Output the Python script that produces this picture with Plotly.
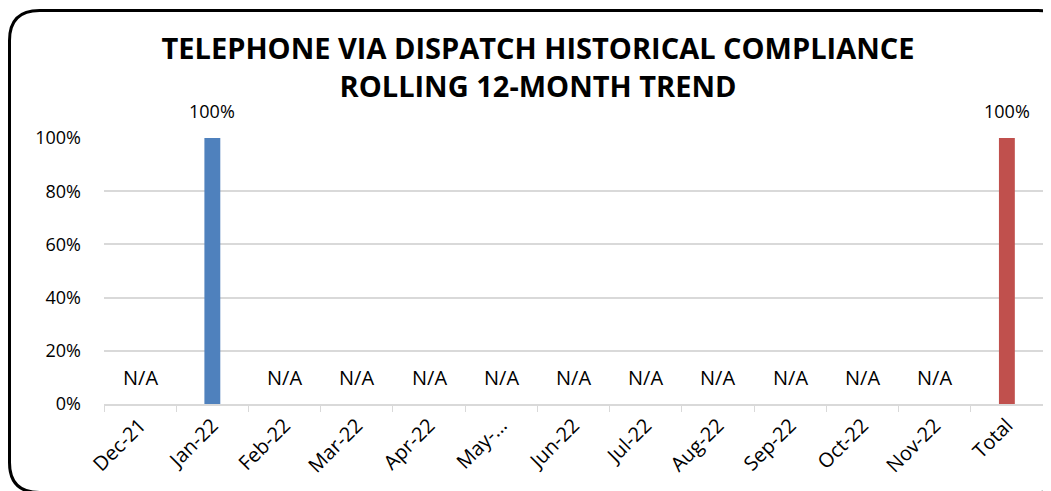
import plotly.graph_objects as go

categories = ["Dec-21", "Jan-22", "Feb-22", "Mar-22", "Apr-22", "May-...", "Jun-22",
              "Jul-22", "Aug-22", "Sep-22", "Oct-22", "Nov-22", "Total"]
values = [None, 1.0, None, None, None, None, None, None, None, None, None, None, 1.0]
bar_colors = ["#4F81BD"] * 12 + ["#C0504D"]
na_label = "N/A"
na_label_pos = 0.10
y_ticks = [0, 0.2, 0.4, 0.6, 0.8, 1.0]
y_tick_labels = ["0%", "20%", "40%", "60%", "80%", "100%"]

# page body has an 8px offset; the figure is sized to fit the window
OFF = 8
W, H = 1051 - OFF, 491 - OFF
L, R, T, B = 104 - OFF, 8, 138 - OFF, 491 - 404
FONT = "Open Sans"

fig = go.Figure()
fig.add_trace(go.Bar(
    x=categories,
    y=[v if v is not None else 0 for v in values],
    marker=dict(color=bar_colors, line=dict(width=0)),
    width=0.22,
    cliponaxis=False,
    hoverinfo="skip",
))

for c, v in zip(categories, values):
    if v is None:
        fig.add_annotation(x=c, y=na_label_pos, text=na_label, showarrow=False,
                           font=dict(family=FONT, size=20, color="#000000"))
    else:
        fig.add_annotation(x=c, y=v, text=f"{v*100:.0f}%", showarrow=False,
                           yanchor="bottom", yshift=13,
                           font=dict(family=FONT, size=18, color="#000000"))

def px(x):
    return (x - OFF - L) / (W - L - R)

def py(y):
    return (H - B - (y - OFF)) / (H - T - B)

l, t, r, b, rad = 9.5, 10.5, 1068, 492.5, 30
path = (f"M {px(l)},{py(b - rad)} L {px(l)},{py(t + rad)} "
        f"Q {px(l)},{py(t)} {px(l + rad)},{py(t)} "
        f"L {px(r - rad)},{py(t)} Q {px(r)},{py(t)} {px(r)},{py(t + rad)} "
        f"L {px(r)},{py(b - rad)} Q {px(r)},{py(b)} {px(r - rad)},{py(b)} "
        f"L {px(l + rad)},{py(b)} Q {px(l)},{py(b)} {px(l)},{py(b - rad)} Z")
fig.add_shape(type="path", path=path, xref="paper", yref="paper",
              line=dict(color="#000000", width=3), layer="above")

fig.update_layout(
    width=W, height=H,
    margin=dict(l=L, r=R, t=T, b=B, autoexpand=False),
    paper_bgcolor="#FFFFFF", plot_bgcolor="#FFFFFF",
    showlegend=False,
    title=dict(text="<b>TELEPHONE VIA DISPATCH HISTORICAL COMPLIANCE<br>ROLLING 12-MONTH TREND</b>",
               x=(538 - OFF - L) / (W - L - R), xref="paper", xanchor="center",
               y=1 - (59 - OFF) / H, yanchor="middle",
               font=dict(family=FONT, size=29, color="#000000")),
    xaxis=dict(
        type="category", tickangle=-45, automargin=False,
        tickfont=dict(family=FONT, size=20, color="#000000"),
        showline=True, linecolor="#D9D9D9", linewidth=1.5,
        ticks="outside", tickson="boundaries", ticklen=6, tickcolor="#D9D9D9",
        showgrid=False,
    ),
    yaxis=dict(
        range=[0, 1.0], tickvals=y_ticks, ticktext=y_tick_labels, automargin=False,
        tickfont=dict(family=FONT, size=18, color="#000000"),
        showgrid=True, gridcolor="#D9D9D9", gridwidth=1.5,
        zeroline=False, showline=False, ticks="", ticklabelstandoff=22,
    ),
)

fig.write_html("out.html")
